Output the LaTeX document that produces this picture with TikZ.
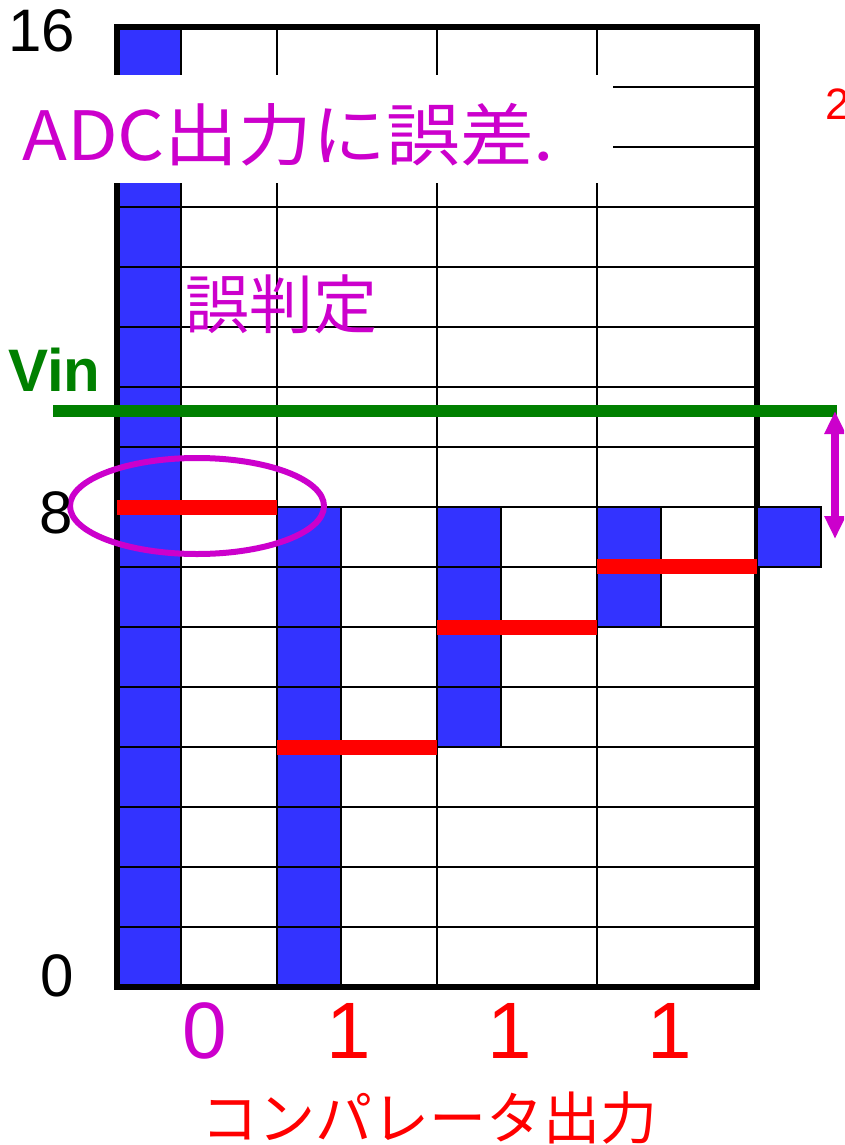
\documentclass[tikz,border=0pt]{standalone}
\usepackage{fontspec}
\usepackage{graphicx}
\setmainfont{Liberation Sans}
\newfontfamily\jp{Noto Sans CJK JP}
\usetikzlibrary{arrows.meta}
\definecolor{cellblue}{RGB}{51,51,255}
\definecolor{mag}{RGB}{204,0,204}
\definecolor{vgreen}{RGB}{0,128,0}
\begin{document}
\begin{tikzpicture}[x=1pt,y=-1pt,
  gridline/.style={draw=black, line width=2pt},
  cell/.style={fill=cellblue, draw=black, line width=2.5pt},
  frameline/.style={draw=black, line width=6pt},
  redbar/.style={draw=red, line width=15pt},
  lbl/.style={inner sep=0pt, anchor=center},
  axisnum/.style={lbl, font=\fontsize{60}{66}\selectfont},
  bitnum/.style={lbl, font=\fontsize{80}{88}\selectfont}]
\clip (0,0) rectangle (844,1145);
\fill[white] (0,0) rectangle (844,1145);
% grid
\foreach \i in {1,...,15} \draw[gridline] (117,{27+60*\i}) -- (757,{27+60*\i});
\foreach \x in {181,277,437,597} \draw[gridline] (\x,27) -- (\x,987);
% blue cells
\foreach \i in {0,...,15} \draw[cell] (117,{27+60*\i}) rectangle (181,{87+60*\i});
\foreach \i in {8,...,15} \draw[cell] (277,{27+60*\i}) rectangle (341,{87+60*\i});
\foreach \i in {8,...,11} \draw[cell] (437,{27+60*\i}) rectangle (501,{87+60*\i});
\foreach \i in {8,9} \draw[cell] (597,{27+60*\i}) rectangle (661,{87+60*\i});
% frame
\draw[frameline] (117,27) rectangle (757,987);
\draw[cell] (757,507) rectangle (821,567);
% red thresholds
\draw[redbar] (117,507) -- (277,507);
\draw[redbar] (277,747) -- (437,747);
\draw[redbar] (437,627) -- (597,627);
\draw[redbar] (597,566) -- (757,566);
% Vin line
\coordinate (vinL) at (53,411);
\coordinate (vinR) at (837,411);
\draw[vgreen, line width=12pt] (vinL) -- (vinR);
% error arrow
\coordinate (vtop) at (835,411);
\coordinate (vbot) at (835,539);
\draw[mag, line width=8pt, {Triangle[width=20pt,length=23pt]}-{Triangle[width=20pt,length=23pt]}] (vtop) -- (vbot);
% ellipse
\draw[mag, line width=6pt] (197,506) ellipse [x radius=127, y radius=48];
% label box
\fill[white] (0,75) rectangle (613,183);
\node[lbl, anchor=west, text=mag, font=\jp\fontsize{68}{74}\selectfont] (adc) at (22,135) {\scalebox{1.085}[1]{ADC出力に誤差.}};
\node[lbl, anchor=west, text=mag, font=\jp\fontsize{64}{70}\selectfont] (gohantei) at (185,304) {誤判定};
\node[lbl, anchor=west, text=red, font=\fontsize{44}{50}\selectfont] (two) at (825,104) {2};
% axis numbers
\node[axisnum] (n16) at (42,31) {16};
\node[axisnum] (n8) at (56,513) {8};
\node[axisnum] (n0) at (57,976) {0};
\node[lbl, anchor=west, text=vgreen, font=\bfseries\fontsize{60}{66}\selectfont] (vin) at (8,370) {Vin};
% comparator outputs
\node[bitnum, text=mag] (b0) at (205,1031) {0};
\node[bitnum, text=red] (b1) at (349,1031) {1};
\node[bitnum, text=red] (b2) at (510,1031) {1};
\node[bitnum, text=red] (b3) at (670,1031) {1};
\node[lbl, text=red, font=\jp\fontsize{57}{62}\selectfont] (cmp) at (429,1118) {コンパレータ出力};
\end{tikzpicture}
\end{document}
